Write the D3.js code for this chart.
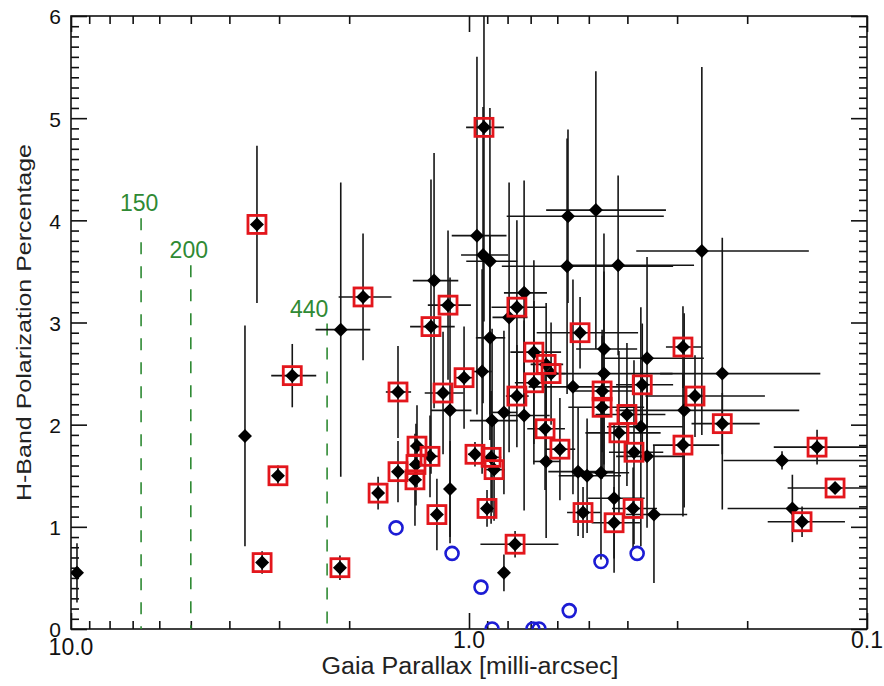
<!DOCTYPE html>
<html><head><meta charset="utf-8">
<script src="https://cdn.jsdelivr.net/npm/d3@7"></script>
<style>
body{margin:0;background:#fff}
svg{display:block}
text{font-family:"Liberation Sans",Arial,Helvetica,sans-serif}
</style>
</head><body>
<svg id="chart" width="884" height="686"></svg>
<script>
// ---- data: plain black diamonds [parallax mas], errors, H-band pol %
const plainPlx    = [9.66,3.655,2.10,0.955,0.922,0.886,1.224,0.727,0.793,0.886,0.927,1.116,0.817,0.727,0.875,1.116,0.817,0.564,0.480,0.567,0.422,0.260,0.458,0.357,0.458,0.548,0.231,0.288,0.370,0.357,0.640,0.532,0.505,0.466,0.432,0.343,0.1635,0.154];
const plainPlxErr = [0.28,0.03,0.33,0.15,0.125,0.13,0.16,0.09,0.08,0.075,0.05,0.13,0.06,0.10,0.12,0.03,0.02,0.24,0.16,0.26,0.15,0.12,0.08,0.10,0.15,0.16,0.10,0.14,0.08,0.07,0.05,0.10,0.09,0.07,0.07,0.06,0.066,0.07];
const plainPol    = [0.55,1.89,2.93,3.85,3.66,3.60,3.41,3.29,3.05,2.85,2.52,2.14,2.12,2.09,2.04,1.37,0.55,4.04,4.10,3.55,3.56,3.70,2.74,2.65,2.50,2.37,2.50,2.14,1.98,1.69,1.64,1.54,1.50,1.53,1.28,1.12,1.65,1.18];
const plainPolErr = [0.29,1.08,1.44,1.75,1.45,1.50,1.25,1.10,1.32,1.00,1.00,1.30,0.80,0.93,0.90,0.47,0.18,0.85,1.36,1.25,0.88,1.80,1.13,0.99,1.00,1.05,1.33,0.95,1.17,0.70,0.75,0.63,0.56,0.85,0.73,0.67,0.09,0.33];

// ---- data: diamonds marked with red squares
const sqPlx    = [3.41,3.02,3.31,2.78,1.846,2.11,1.508,1.692,0.917,1.129,1.246,0.758,1.029,1.162,0.758,0.687,0.640,0.622,0.687,0.526,0.644,0.591,1.351,1.253,1.508,1.359,1.367,1.204,0.966,0.880,0.865,0.901,0.766,0.463,0.463,0.401,0.420,0.385,0.367,0.290,0.2705,0.290,0.231,0.1335,0.1203,0.1456,0.517,0.432,0.387];
const sqPlxErr = [0.04,0.03,0.03,0.36,0.28,0.03,0.11,0.03,0.10,0.14,0.16,0.12,0.05,0.13,0.05,0.10,0.06,0.05,0.08,0.15,0.07,0.05,0.05,0.06,0.05,0.05,0.05,0.03,0.04,0.05,0.05,0.03,0.17,0.08,0.10,0.08,0.09,0.06,0.06,0.03,0.09,0.055,0.045,0.038,0.038,0.032,0.05,0.06,0.05];
const sqPol    = [3.96,1.50,0.65,2.48,3.25,0.60,2.32,1.33,4.91,3.17,2.96,3.15,2.46,2.31,2.28,2.71,2.59,2.50,2.41,2.90,1.96,1.76,1.79,1.69,1.54,1.61,1.46,1.12,1.71,1.68,1.56,1.18,0.83,2.33,2.17,2.10,1.92,1.73,2.39,2.76,2.28,1.80,2.01,1.78,1.38,1.05,1.14,1.04,1.18];
const sqPolErr = [0.77,0.10,0.11,0.31,0.62,0.12,0.45,0.16,1.90,0.73,1.44,0.85,0.50,0.60,0.50,0.90,0.60,0.50,0.80,0.35,0.60,0.50,0.40,0.40,0.30,0.40,0.45,0.35,0.12,0.65,0.50,0.18,0.13,0.60,0.70,0.70,0.80,0.90,0.60,0.40,0.40,0.70,0.30,0.17,0.05,0.15,0.25,0.35,0.40];

// ---- data: open blue circles
const openPlx = [1.525,1.103,0.933,0.875,0.691,0.667,0.560,0.466,0.378];
const openPol = [0.99,0.74,0.41,0.0,0.0,0.0,0.18,0.66,0.74];

// ---- distance markers (pc) and the top of each dashed line
const distPc   = [150,200,440];
const distTop  = [4.02,3.56,2.99];

// ---- axis ticks
const xMajor = [10,1,0.1];
const xMajorLabels = ["10.0","1.0","0.1"];
const yMajor = [0,1,2,3,4,5,6];
const yMajorLabels = ["0","1","2","3","4","5","6"];

// ---- layout / style (not data)
const L=71,R=867,T=16,B=629;
const xLabelBaseline = [655,648,648];
const distLabelDx = [-2,-2,-18];

const svg = d3.select("#chart");
const x = d3.scaleLog().domain([10,0.1]).range([L,R]);
const y = d3.scaleLinear().domain([0,6]).range([B,T]);

svg.append("clipPath").attr("id","plot").append("rect")
  .attr("x",L).attr("y",T).attr("width",R-L).attr("height",B-T);

// ticks (inward)
const xMinor = x.ticks().filter(v => !xMajor.some(m => Math.abs(m-v)<1e-9));
const yMinor = d3.range(0,61).map(i=>i/10).filter(v => Math.abs(v-Math.round(v))>1e-6);
function tickAxis(gen, vals, size, tx, ty){
  const g = svg.append("g").attr("transform",`translate(${tx},${ty})`)
    .call(gen.tickValues(vals).tickSize(-size).tickSizeOuter(0).tickFormat(""));
  g.select(".domain").remove();
  g.selectAll("line").attr("stroke","#111").attr("stroke-width",1.6);
}
tickAxis(d3.axisBottom(x), xMinor, 8, 0, B);
tickAxis(d3.axisBottom(x), xMajor, 16, 0, B);
tickAxis(d3.axisTop(x), xMinor, 8, 0, T);
tickAxis(d3.axisTop(x), xMajor, 16, 0, T);
tickAxis(d3.axisLeft(y), yMinor, 8, L, 0);
tickAxis(d3.axisLeft(y), yMajor, 16, L, 0);
tickAxis(d3.axisRight(y), yMinor, 8, R, 0);
tickAxis(d3.axisRight(y), yMajor, 16, R, 0);

// frame
svg.append("rect").attr("x",L).attr("y",T).attr("width",R-L).attr("height",B-T)
  .attr("fill","none").attr("stroke","#111").attr("stroke-width",1.6);

// tick labels
svg.append("g").selectAll("text").data(xMajor).join("text")
  .attr("x",d=>x(d)).attr("y",(d,i)=>xLabelBaseline[i]).attr("text-anchor","middle")
  .attr("font-size",23).attr("fill","#111").text((d,i)=>xMajorLabels[i]);
svg.append("g").selectAll("text").data(yMajor).join("text")
  .attr("x",L-10).attr("y",d=>y(d)).attr("dy","0.40em").attr("text-anchor","end")
  .attr("font-size",21).attr("fill","#111").text((d,i)=>yMajorLabels[i]);

// axis titles
svg.append("text").attr("x",(L+R)/2+1).attr("y",674).attr("text-anchor","middle")
  .attr("font-size",23).attr("fill","#222")
  .attr("textLength",297).attr("lengthAdjust","spacingAndGlyphs")
  .text("Gaia Parallax [milli-arcsec]");
svg.append("text").attr("transform",`translate(31,${(T+B)/2}) rotate(-90)`)
  .attr("text-anchor","middle").attr("font-size",20.5).attr("fill","#222")
  .attr("textLength",357).attr("lengthAdjust","spacingAndGlyphs")
  .text("H-Band Polarization Percentage");

// distance markers
const green = "#2f8a34";
const dist = distPc.map((d,i)=>({plx:1000/d, top:distTop[i], dx:distLabelDx[i], label:String(d)}));
const dg = svg.append("g");
dg.selectAll("line").data(dist).join("line")
  .attr("x1",d=>x(d.plx)).attr("x2",d=>x(d.plx))
  .attr("y1",d=>y(d.top)).attr("y2",B)
  .attr("stroke",green).attr("stroke-width",1.6).attr("stroke-dasharray","12,12");
dg.selectAll("text").data(dist).join("text")
  .attr("x",d=>x(d.plx)+d.dx).attr("y",d=>y(d.top)-7).attr("text-anchor","middle")
  .attr("font-size",23).attr("fill",green).text(d=>d.label);

// points
const plain = plainPlx.map((p,i)=>({plx:p, ex:plainPlxErr[i], pol:plainPol[i], ey:plainPolErr[i]}));
const sq = sqPlx.map((p,i)=>({plx:p, ex:sqPlxErr[i], pol:sqPol[i], ey:sqPolErr[i]}));
const allPts = plain.concat(sq);
const open = openPlx.map((p,i)=>({plx:p, pol:openPol[i]}));

const pg = svg.append("g").attr("clip-path","url(#plot)");
const bars = pg.append("g").attr("stroke","#151515").attr("stroke-width",1.6);
bars.selectAll("line.v").data(allPts).join("line").attr("class","v")
  .attr("x1",d=>x(d.plx)).attr("x2",d=>x(d.plx))
  .attr("y1",d=>y(d.pol-d.ey)).attr("y2",d=>y(d.pol+d.ey));
bars.selectAll("line.h").data(allPts).join("line").attr("class","h")
  .attr("y1",d=>y(d.pol)).attr("y2",d=>y(d.pol))
  .attr("x1",d=>x(d.plx+d.ex)).attr("x2",d=>x(Math.max(d.plx-d.ex,0.01)));

pg.append("g").selectAll("path").data(allPts).join("path")
  .attr("d","M0,-7L7,0L0,7L-7,0Z").attr("fill","#000")
  .attr("transform",d=>`translate(${x(d.plx)},${y(d.pol)})`);

pg.append("g").selectAll("rect").data(sq).join("rect")
  .attr("x",d=>x(d.plx)-9).attr("y",d=>y(d.pol)-9).attr("width",18).attr("height",18)
  .attr("fill","none").attr("stroke","#e3161c").attr("stroke-width",2.8);

pg.append("g").selectAll("circle").data(open).join("circle")
  .attr("cx",d=>x(d.plx)).attr("cy",d=>y(d.pol)).attr("r",6.5)
  .attr("fill","none").attr("stroke","#1c1cd4").attr("stroke-width",2.6);
</script>
</body></html>
